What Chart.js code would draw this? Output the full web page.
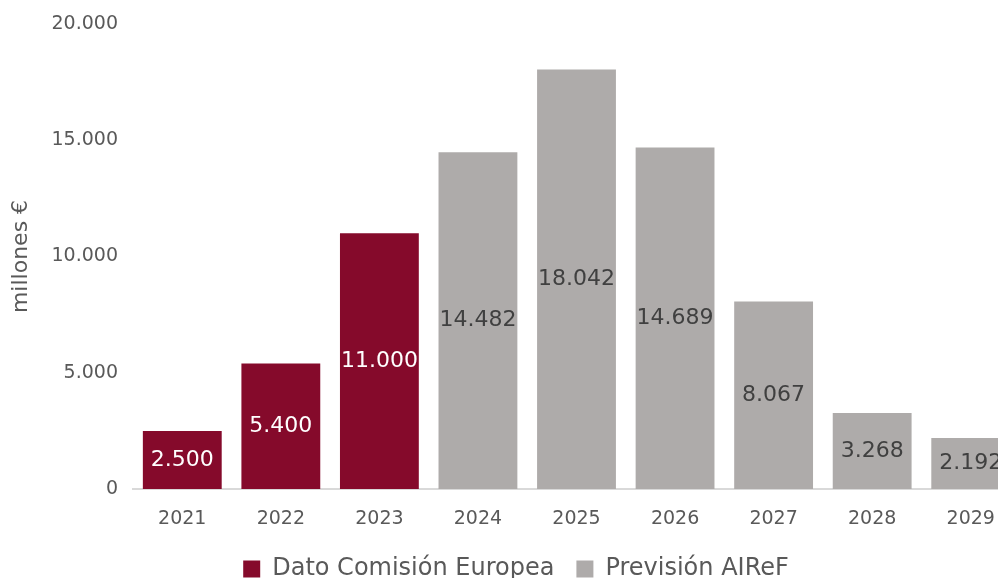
<!DOCTYPE html>
<html>
<head>
<meta charset="utf-8">
<script src="https://cdn.jsdelivr.net/npm/chart.js@4.4.1/dist/chart.umd.min.js"></script>
<style>
  html, body { margin: 0; padding: 0; background: #fff; overflow: hidden; }
  #wrap { width: 1020px; height: 578px; }
</style>
</head>
<body>
<div id="wrap"><canvas id="chart" width="1020" height="578"></canvas></div>
<script>
const years = ["2021", "2022", "2023", "2024", "2025", "2026", "2027", "2028", "2029"];
const datoComision = [2500, 5400, 11000, null, null, null, null, null, null];
const prevision = [null, null, null, 14482, 18042, 14689, 8067, 3268, 2192];
const yTicks = [0, 5000, 10000, 15000, 20000];

const FONT = "'DejaVu Sans', sans-serif";
const TEXT = "#595959";

function fmt(v) {
  return String(v).replace(/\B(?=(\d{3})+(?!\d))/g, ".");
}

// etiquetas centradas en cada barra
const barLabels = {
  id: "barLabels",
  afterDatasetsDraw(chart) {
    const ctx = chart.ctx;
    ctx.save();
    ctx.font = "22px " + FONT;
    ctx.textAlign = "center";
    ctx.textBaseline = "middle";
    chart.data.datasets.forEach((ds, i) => {
      const meta = chart.getDatasetMeta(i);
      meta.data.forEach((bar, j) => {
        const v = ds.data[j];
        if (v == null) return;
        ctx.fillStyle = ds.labelColor;
        ctx.fillText(fmt(v), bar.x, (bar.y + bar.base) / 2);
      });
    });
    ctx.restore();
  }
};

new Chart(document.getElementById("chart"), {
  type: "bar",
  data: {
    labels: years,
    datasets: [
      {
        label: "Dato Comisión Europea",
        data: datoComision,
        backgroundColor: "#850a2b",
        labelColor: "#ffffff"
      },
      {
        label: "Previsión AIReF",
        data: prevision,
        backgroundColor: "#aeabaa",
        labelColor: "#404040"
      }
    ]
  },
  options: {
    responsive: false,
    animation: false,
    layout: { padding: { top: 0, right: 0, left: 12, bottom: -13 } },
    datasets: { bar: { categoryPercentage: 0.8, barPercentage: 1 } },
    scales: {
      x: {
        stacked: true,
        grid: { display: false },
        border: { display: true, color: "#d9d9d9", width: 2 },
        afterFit(scale) { scale.height = 46; },
        ticks: { color: TEXT, font: { family: FONT, size: 19 }, padding: 11 }
      },
      y: {
        stacked: true,
        min: 0,
        max: 20000,
        grid: { display: false, drawTicks: false },
        border: { display: false },
        afterBuildTicks(scale) {
          scale.ticks = yTicks.map(v => ({ value: v }));
        },
        afterFit(scale) { scale.width = 121; scale.paddingTop = 24; },
        ticks: {
          color: TEXT,
          font: { family: FONT, size: 19 },
          padding: 15,
          callback: v => fmt(v)
        },
        title: {
          display: true,
          text: "millones €",
          color: TEXT,
          font: { family: FONT, size: 22 },
          padding: { top: -4, bottom: 0 }
        }
      }
    },
    plugins: {
      legend: {
        position: "bottom",
        labels: {
          color: TEXT,
          font: { family: FONT, size: 24 },
          boxWidth: 17,
          boxHeight: 17,
          padding: 22
        }
      },
      tooltip: { enabled: false }
    }
  },
  plugins: [barLabels]
});
</script>
</body>
</html>
